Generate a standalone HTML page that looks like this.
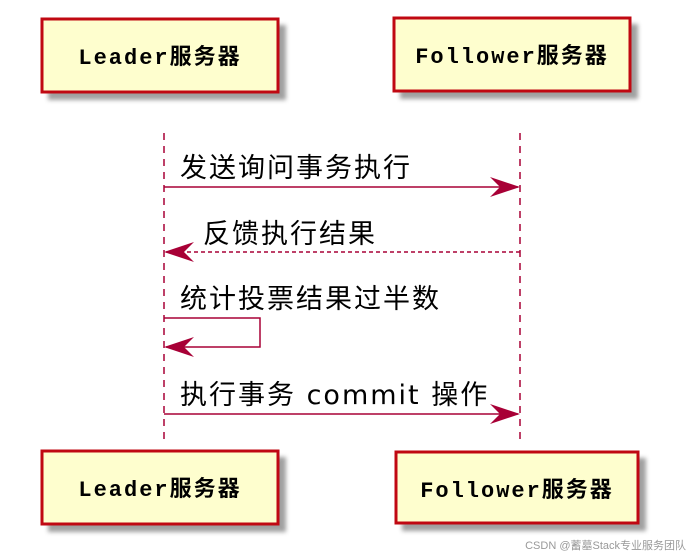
<!DOCTYPE html>
<html><head><meta charset="utf-8"><style>
body{margin:0;background:#fff;width:693px;height:556px;overflow:hidden}
svg{display:block}
</style></head><body>
<svg width="693" height="556" xmlns="http://www.w3.org/2000/svg">
<defs><filter id="b"><feGaussianBlur stdDeviation="2"/></filter></defs>
<g fill="#888" filter="url(#b)" opacity="0.8">
<rect x="48" y="25" width="238" height="75"/>
<rect x="400" y="24" width="238" height="75"/>
<rect x="48" y="457" width="238" height="75"/>
<rect x="402" y="458" width="244" height="73"/>
</g>
<g fill="#fefece" stroke="#c00812" stroke-width="3">
<rect x="42" y="19" width="236" height="73"/>
<rect x="394" y="18" width="236" height="73"/>
<rect x="42" y="451" width="236" height="73"/>
<rect x="396" y="452" width="242" height="71"/>
</g>
<g font-family="'Liberation Mono','Noto Sans CJK SC',monospace" font-size="22" font-weight="bold" fill="#000" text-anchor="middle" letter-spacing="2">
<text x="160" y="64">Leader服务器</text>
<text x="512" y="63">Follower服务器</text>
<text x="160" y="496">Leader服务器</text>
<text x="517" y="497">Follower服务器</text>
</g>
<g stroke="#a80036" stroke-width="1.5" stroke-dasharray="7,6" fill="none">
<line x1="164" y1="133" x2="164" y2="445"/>
<line x1="520" y1="133" x2="520" y2="445"/>
</g>
<g stroke="#a80036" stroke-width="1.5" fill="none">
<line x1="164" y1="187" x2="518" y2="187"/>
<line x1="166" y1="252" x2="520" y2="252" stroke-dasharray="4,3"/>
<polyline points="164,318 260,318 260,347 166,347"/>
<line x1="164" y1="414" x2="518" y2="414"/>
</g>
<g fill="#a80036">
<polygon points="520,187 490,177 500,187 490,197"/>
<polygon points="164,252 194,242 184,252 194,262"/>
<polygon points="164,347 194,337 184,347 194,357"/>
<polygon points="520,414 490,404 500,414 490,424"/>
</g>
<g font-family="'DejaVu Sans','Noto Sans CJK SC',sans-serif" font-size="27" fill="#000" letter-spacing="2">
<text x="180" y="177">发送询问事务执行</text>
<text x="203" y="243">反馈执行结果</text>
<text x="180" y="308">统计投票结果过半数</text>
<text x="180" y="404">执行事务 commit 操作</text>
</g>
<text x="686" y="549" text-anchor="end" font-family="'Liberation Sans','Noto Sans CJK SC',sans-serif" font-size="11" fill="#999">CSDN @蓄墓Stack专业服务团队</text>
</svg>
</body></html>
